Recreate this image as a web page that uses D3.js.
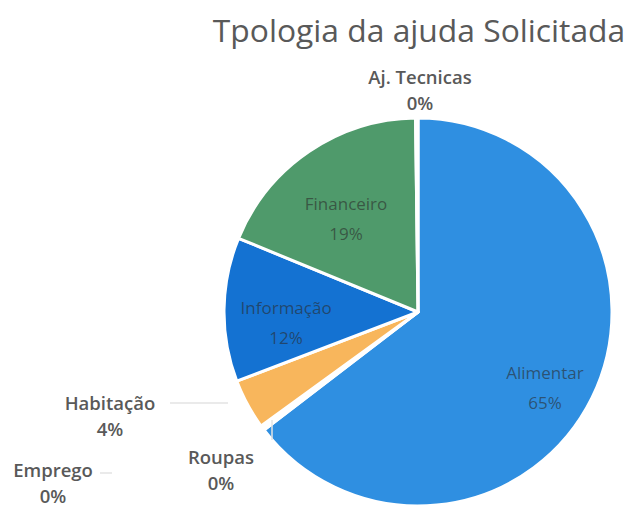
<!DOCTYPE html>
<html><head><meta charset="utf-8">
<script src="https://cdn.jsdelivr.net/npm/d3@7"></script>
<style>body{margin:0;background:#fff}svg{display:block}</style>
</head><body><div id="chart"></div>
<script>
const categories = ["Alimentar","Roupas","Emprego","Habitação","Informação","Financeiro","Aj. Tecnicas"];
const values = [64.6, 0.2, 0.2, 4.2, 12, 18.6, 0.2];
const pctLabels = ["65%","0%","0%","4%","12%","19%","0%"];
const colors = ["#2f8fe1","#2f8fe1","#2f8fe1","#f8b65c","#1472d2","#4f9a6b","#4f9a6b"];
const title = "Tpologia da ajuda Solicitada";

const W = 636, H = 518;
const svg = d3.select("#chart").append("svg").attr("width", W).attr("height", H);
const cx = 418, cy = 312, R = 194;

const data = categories.map((c,i)=>({cat:c, value:values[i], pct:pctLabels[i], color:colors[i]}));
const pie = d3.pie().sort(null).value(d=>d.value).startAngle(0).endAngle(2*Math.PI);
const arcs = pie(data);
const arc = d3.arc().innerRadius(0).outerRadius(R);
const g = svg.append("g").attr("transform", `translate(${cx},${cy})`);
g.selectAll("path").data(arcs).join("path")
  .attr("d", arc).attr("fill", d=>d.data.color)
  .attr("stroke", "#fff").attr("stroke-width", 3).attr("stroke-linejoin","round");

// inside labels
const inside = {"Alimentar":0.73,"Informação":0.68,"Financeiro":0.66};
const inl = g.selectAll("g.in").data(arcs.filter(d=>inside[d.data.cat])).join("g")
  .attr("class","in").attr("transform", d=>{
    const r = R*inside[d.data.cat];
    const c = d3.arc().innerRadius(r).outerRadius(r).centroid(d);
    return `translate(${c[0]},${c[1]})`;});
inl.append("text").attr("text-anchor","middle").attr("y",4)
  .style("font-family","'Open Sans', sans-serif").style("font-size","17px")
  .attr("fill","#2a2a2a").attr("fill-opacity",0.6).text(d=>d.data.cat);
inl.append("text").attr("text-anchor","middle").attr("y",34)
  .style("font-family","'Open Sans', sans-serif").style("font-size","17px")
  .attr("fill","#2a2a2a").attr("fill-opacity",0.6).text(d=>d.data.pct);

// outside labels (positions)
const outPos = {"Aj. Tecnicas":[420,84], "Roupas":[221,464], "Emprego":[53,477], "Habitação":[110,410]};
const outData = data.filter(d=>outPos[d.cat]);
const ol = svg.selectAll("g.out").data(outData).join("g").attr("class","out")
  .attr("transform", d=>`translate(${outPos[d.cat][0]},${outPos[d.cat][1]})`);
ol.append("text").attr("text-anchor","middle")
  .style("font-family","'Open Sans', sans-serif").style("font-size","18.5px").style("font-weight","600")
  .attr("fill","#595959").text(d=>d.cat);
ol.append("text").attr("text-anchor","middle").attr("y",26)
  .style("font-family","'Open Sans', sans-serif").style("font-size","18.5px").style("font-weight","600")
  .attr("fill","#595959").text(d=>d.pct);

// faint leader lines
const leaders = [[[170,403],[228,403]],[[100,473],[112,473]],[[272,420],[272,440]]];
svg.selectAll("line.ld").data(leaders).join("line").attr("class","ld")
  .attr("x1",d=>d[0][0]).attr("y1",d=>d[0][1]).attr("x2",d=>d[1][0]).attr("y2",d=>d[1][1])
  .attr("stroke","#e3e3e3").attr("stroke-width",1.5);

// title
const t = svg.append("text").attr("x",419).attr("y",42).attr("text-anchor","middle")
  .style("font-family","'Open Sans', sans-serif").style("font-size","30px")
  .attr("fill","#595959").text(title);
const tw = t.node().getComputedTextLength();
t.style("font-size", (30*412/tw).toFixed(1)+"px");
</script></body></html>
